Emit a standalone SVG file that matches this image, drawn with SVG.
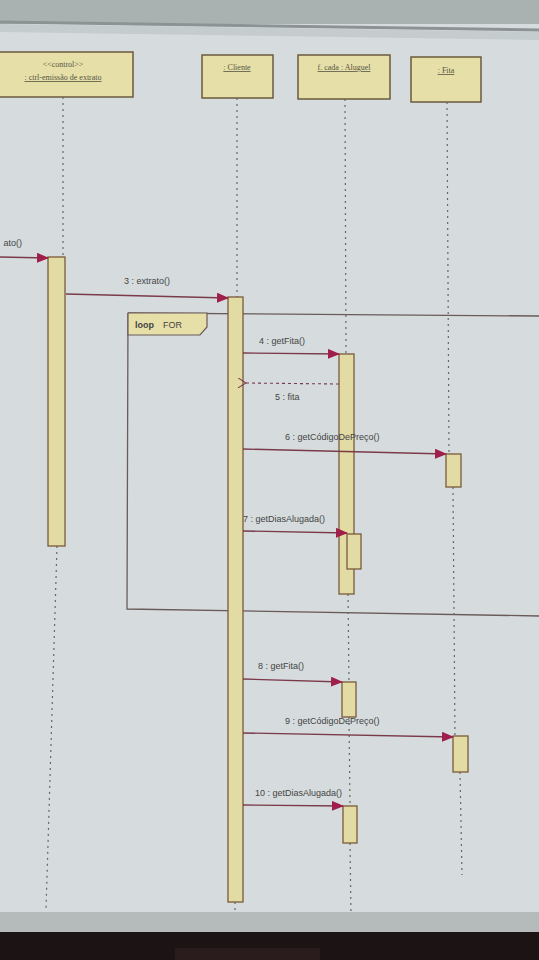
<svg xmlns="http://www.w3.org/2000/svg" width="539" height="960" viewBox="0 0 539 960">
<defs>
<style>
.box{fill:#e6dfa8;stroke:#6b5a3c;stroke-width:1.5}
.act{fill:#e2dba4;stroke:#7a5a3a;stroke-width:1.3}
.life{stroke:#666;stroke-width:1.2;stroke-dasharray:2,4;fill:none}
.msg{stroke:#7a3a4a;stroke-width:1.3;fill:none}
.ret{stroke:#7a3a4a;stroke-width:1.1;fill:none;stroke-dasharray:3,3}
.lbl{font-family:"Liberation Sans",Arial,sans-serif;font-size:9px;fill:#444}
.hdr{font-family:"Liberation Serif","Times New Roman",serif;font-size:8px;fill:#554;text-anchor:middle}
.frame{stroke:#6a5a5a;stroke-width:1.3;fill:none}
</style>
<marker id="arr" markerWidth="12" markerHeight="10" refX="11" refY="5" orient="auto" markerUnits="userSpaceOnUse">
<path d="M0,0 L12,5 L0,10 Z" fill="#a01e4a"/>
</marker>
<marker id="open" markerWidth="10" markerHeight="10" refX="1" refY="5" orient="auto" markerUnits="userSpaceOnUse">
<path d="M9,0 L1,5 L9,10" fill="none" stroke="#7a3a4a" stroke-width="1"/>
</marker>
</defs>
<rect width="539" height="960" fill="#d6dcdd"/>
<rect width="539" height="24" fill="#aab1b1"/>
<path d="M0,22 L539,30" stroke="#8b9393" stroke-width="3"/>
<path d="M0,24 L539,32 L539,40 L0,32 Z" fill="#c5cccd"/>
<rect x="0" y="912" width="539" height="22" fill="#b5bbbb"/>
<rect x="0" y="932" width="539" height="28" fill="#1c1414"/>
<rect x="175" y="948" width="145" height="12" fill="#2a1c1c"/>

<g id="loop">
<path class="frame" d="M128,313 L539,316"/>
<path class="frame" d="M128,313 L127,609 L539,616"/>
<path d="M128,313 L207,313 L207,327 L200,335 L128,335 Z" fill="#e6dfa8" stroke="#6a5a5a" stroke-width="1.2"/>
<text class="lbl" x="135" y="328" style="font-weight:bold">loop</text>
<text class="lbl" x="163" y="328">FOR</text>
</g>
<g id="ctrl">
<rect class="box" x="-2" y="52" width="135" height="45"/>
<text class="hdr" x="63" y="67">&lt;&lt;control&gt;&gt;</text>
<text class="hdr" x="63" y="80" text-decoration="underline">: ctrl-emissão de extrato</text>
<line class="life" x1="63" y1="97" x2="63" y2="257"/>
<line class="life" x1="57" y1="546" x2="46" y2="910"/>
<rect class="act" x="48" y="257" width="17" height="289"/>
</g>
<g id="cliente">
<rect class="box" x="202" y="55" width="71" height="43"/>
<text class="hdr" x="237" y="70" text-decoration="underline">: Cliente</text>
<line class="life" x1="237" y1="98" x2="237" y2="297"/>
<line class="life" x1="235" y1="902" x2="235" y2="912"/>
<rect class="act" x="228" y="297" width="15" height="605"/>
</g>
<g id="aluguel">
<rect class="box" x="298" y="55" width="92" height="44"/>
<text class="hdr" x="344" y="70" text-decoration="underline">f. cada : Aluguel</text>
<line class="life" x1="345" y1="99" x2="346" y2="354"/>
<line class="life" x1="348" y1="594" x2="349" y2="682"/>
<line class="life" x1="349" y1="717" x2="350" y2="806"/>
<line class="life" x1="350" y1="843" x2="351" y2="915"/>
<rect class="act" x="339" y="354" width="15" height="240"/>
<rect class="act" x="347" y="534" width="14" height="35"/>
<rect class="act" x="342" y="682" width="14" height="35"/>
<rect class="act" x="343" y="806" width="14" height="37"/>
</g>
<g id="fita">
<rect class="box" x="411" y="57" width="70" height="45"/>
<text class="hdr" x="446" y="73" text-decoration="underline">: Fita</text>
<line class="life" x1="447" y1="102" x2="449" y2="454"/>
<line class="life" x1="453" y1="487" x2="455" y2="736"/>
<line class="life" x1="460" y1="772" x2="462" y2="875"/>
<rect class="act" x="446" y="454" width="15" height="33"/>
<rect class="act" x="453" y="736" width="15" height="36"/>
</g>
<g id="connectors">
<line class="msg" x1="0" y1="257" x2="48" y2="258" marker-end="url(#arr)"/>
<text class="lbl" x="22" y="246" text-anchor="end">ato()</text>
<line class="msg" x1="66" y1="294" x2="228" y2="298" marker-end="url(#arr)"/>
<text class="lbl" x="124" y="284">3 : extrato()</text>
<line class="msg" x1="243" y1="353" x2="339" y2="354" marker-end="url(#arr)"/>
<text class="lbl" x="259" y="344">4 : getFita()</text>
<line class="ret" x1="339" y1="384" x2="246" y2="383" marker-end="url(#open)"/>
<text class="lbl" x="275" y="400">5 : fita</text>
<line class="msg" x1="243" y1="449" x2="446" y2="454" marker-end="url(#arr)"/>
<text class="lbl" x="285" y="440">6 : getCódigoDePreço()</text>
<line class="msg" x1="243" y1="531" x2="347" y2="533" marker-end="url(#arr)"/>
<text class="lbl" x="243" y="522">7 : getDiasAlugada()</text>
<line class="msg" x1="243" y1="679" x2="342" y2="682" marker-end="url(#arr)"/>
<text class="lbl" x="258" y="669">8 : getFita()</text>
<line class="msg" x1="243" y1="733" x2="453" y2="737" marker-end="url(#arr)"/>
<text class="lbl" x="285" y="724">9 : getCódigoDePreço()</text>
<line class="msg" x1="243" y1="805" x2="343" y2="806" marker-end="url(#arr)"/>
<text class="lbl" x="255" y="796">10 : getDiasAlugada()</text>
</g>
</svg>
